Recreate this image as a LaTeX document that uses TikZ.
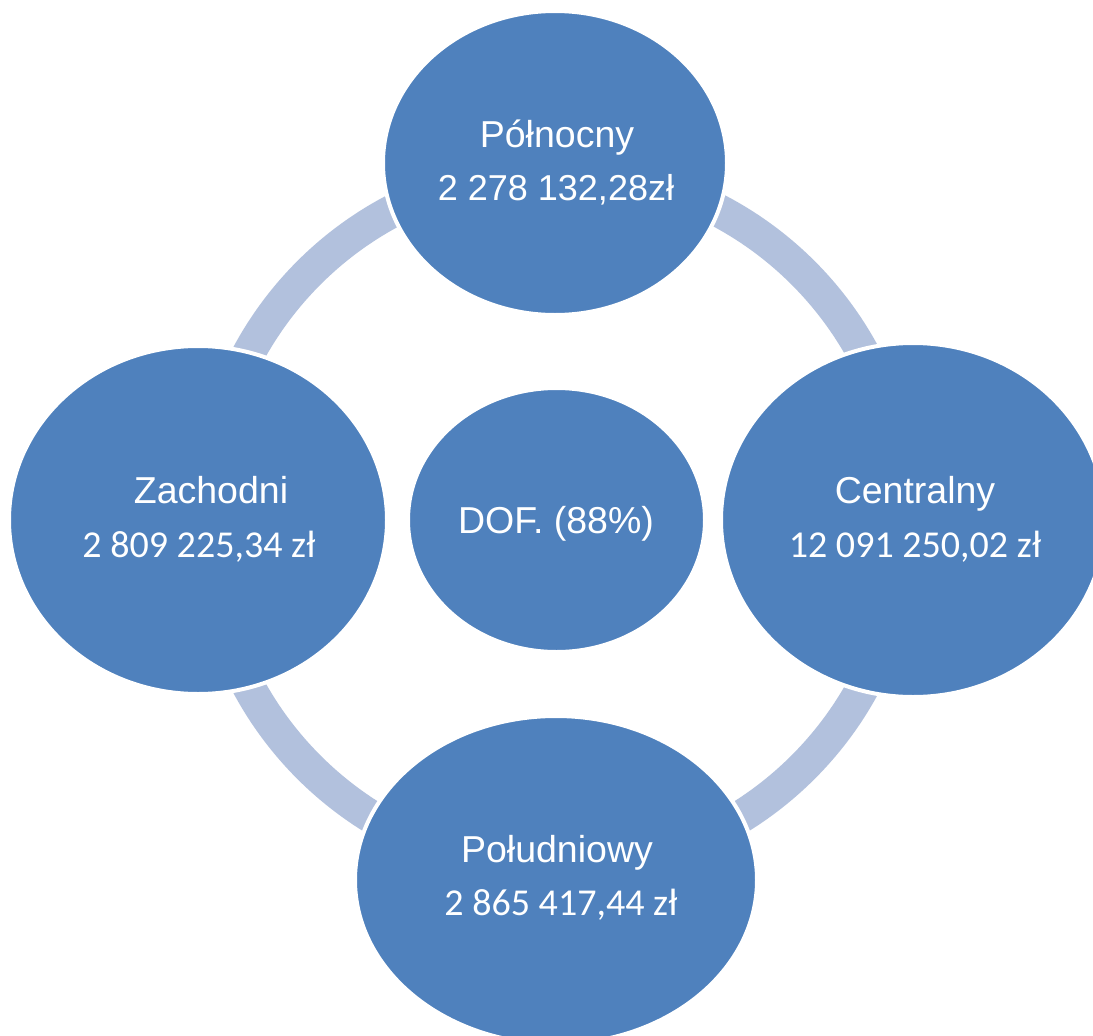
\documentclass[tikz,border=0pt]{standalone}
\usepackage{fontspec}
\setmainfont{Liberation Sans}
\newfontfamily\numfont{Carlito}
\usetikzlibrary{shapes.geometric}
\definecolor{blob}{HTML}{4F81BD}
\definecolor{ringc}{HTML}{B2C1DD}
\tikzset{
  blobnode/.style={ellipse, fill=blob, draw=white, line width=4pt, inner sep=0pt},
  lbl/.style={text=white, anchor=base, inner sep=0pt, font=\fontsize{37.5}{42}\selectfont},
  toplbl/.style={text=white, anchor=base, inner sep=0pt, font=\fontsize{36}{42}\selectfont},
  numlbl/.style={text=white, anchor=base, inner sep=0pt, font=\numfont\fontsize{38}{42}\selectfont}
}
\begin{document}
\begin{tikzpicture}[x=1pt,y=-1pt]
\clip (0,0) rectangle (1093,1036);
\fill[white] (0,0) rectangle (1093,1036);
\coordinate (c) at (556,520);
\draw[ringc, line width=33pt] (c) circle[radius=349.5pt];
\node[blobnode, minimum width=344pt, minimum height=304pt] (north) at (555,163) {};
\node[blobnode, minimum width=378pt, minimum height=348pt] (west) at (198,520) {};
\node[blobnode, minimum width=384pt, minimum height=354pt] (east) at (913,520) {};
\node[blobnode, minimum width=402pt, minimum height=328pt] (south) at (556,880) {};
\node[blobnode, minimum width=297pt, minimum height=264pt] (center) at (556.5,520) {};
% labels
\node[lbl] (tn) at (557,147) {Północny};
\node[toplbl] (vn) at (556,200) {2 278 132,28zł};
\node[lbl] (tw) at (211,503) {Zachodni};
\node[numlbl] (vw) at (199,557) {2 809 225,34 zł};
\node[lbl] (te) at (915,503) {Centralny};
\node[numlbl] (ve) at (915,557) {12 091 250,02 zł};
\node[lbl] (ts) at (557,862) {Południowy};
\node[numlbl] (vs) at (561,915) {2 865 417,44 zł};
\node[lbl] (tc) at (556,533) {DOF. (88\%)};
\end{tikzpicture}
\end{document}
